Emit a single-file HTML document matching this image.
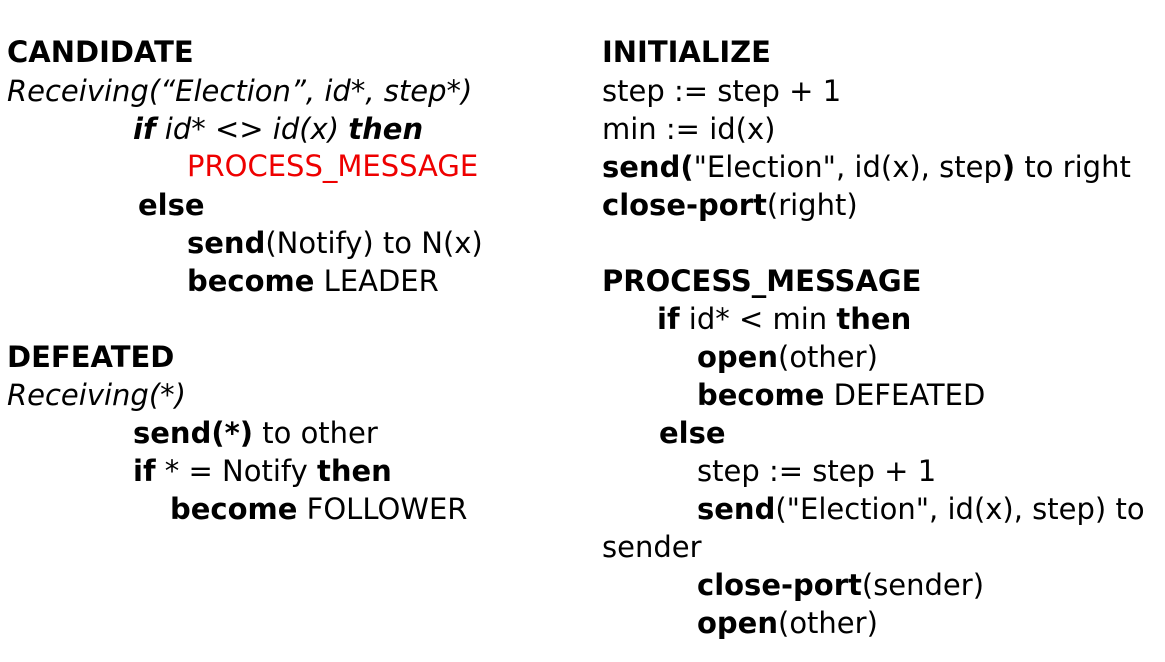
<!DOCTYPE html>
<html><head><meta charset="utf-8"><style>
body{margin:0;width:1165px;height:662px;background:#fff;position:relative;overflow:hidden;font-family:"DejaVu Sans","Liberation Sans",sans-serif;font-size:29px;color:#000}
div{position:absolute;white-space:nowrap;line-height:38px;height:38px}
i{font-style:italic}
.r{color:#e00}
</style></head><body>
<div style="left:7px;top:33px"><b>CANDIDATE</b></div>
<div style="left:7px;top:72px"><i>Receiving(“Election”, id*, step*)</i></div>
<div style="left:133px;top:110px"><i><b>if</b> id* &lt;&gt; id(x) <b>then</b></i></div>
<div style="left:187px;top:147px" class="r">PROCESS_MESSAGE</div>
<div style="left:138px;top:186px"><b>else</b></div>
<div style="left:187px;top:224px"><b>send</b>(Notify) to N(x)</div>
<div style="left:187px;top:262px"><b>become</b> LEADER</div>
<div style="left:7px;top:338px"><b>DEFEATED</b></div>
<div style="left:7px;top:376px"><i>Receiving(*)</i></div>
<div style="left:133px;top:414px"><b>send(*)</b> to other</div>
<div style="left:133px;top:452px"><b>if</b> * = Notify <b>then</b></div>
<div style="left:170px;top:490px"><b>become</b> FOLLOWER</div>

<div style="left:602px;top:33px"><b>INITIALIZE</b></div>
<div style="left:602px;top:72px">step := step + 1</div>
<div style="left:602px;top:110px">min := id(x)</div>
<div style="left:602px;top:148px"><b>send(</b>"Election", id(x), step<b>)</b> to right</div>
<div style="left:602px;top:186px"><b>close-port</b>(right)</div>
<div style="left:602px;top:262px"><b>PROCESS_MESSAGE</b></div>
<div style="left:657px;top:300px"><b>if</b> id* &lt; min <b>then</b></div>
<div style="left:697px;top:338px"><b>open</b>(other)</div>
<div style="left:697px;top:376px"><b>become</b> DEFEATED</div>
<div style="left:659px;top:414px"><b>else</b></div>
<div style="left:697px;top:452px">step := step + 1</div>
<div style="left:697px;top:490px"><b>send</b>("Election", id(x), step) to</div>
<div style="left:602px;top:528px">sender</div>
<div style="left:697px;top:566px"><b>close-port</b>(sender)</div>
<div style="left:697px;top:604px"><b>open</b>(other)</div>
</body></html>
